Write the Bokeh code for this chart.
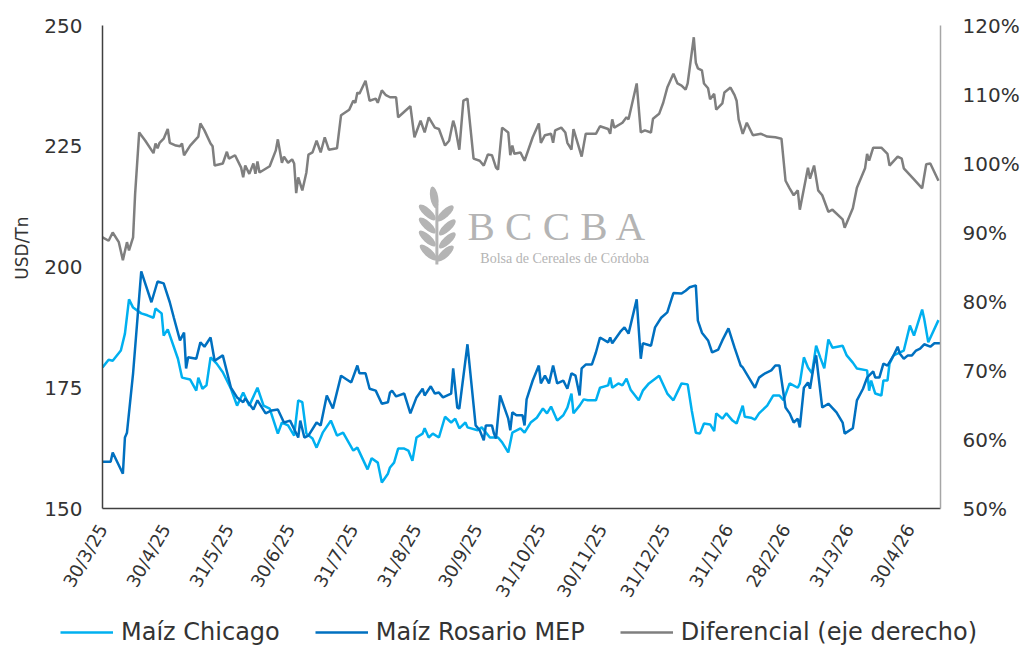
import math
from datetime import date, datetime

from bokeh.plotting import figure
from bokeh.models import Range1d, LinearAxis, FixedTicker, Legend, LegendItem, Label, PrintfTickFormatter
from bokeh.embed import file_html
from bokeh.resources import INLINE

# ---------------- data ----------------
START = date(2025, 3, 30)   # day offsets below are counted from this date

tick_labels = ["30/3/25", "30/4/25", "31/5/25", "30/6/25", "31/7/25", "31/8/25", "30/9/25",
               "31/10/25", "30/11/25", "31/12/25", "31/1/26", "28/2/26", "31/3/26", "30/4/26"]

usd_ticks = [150, 175, 200, 225, 250]
pct_ticks = [50, 60, 70, 80, 90, 100, 110, 120]

series_names = ["Maíz Chicago", "Maíz Rosario MEP", "Diferencial (eje derecho)"]

# Maíz Chicago (USD/Tn)
chicago_day = [0, 3, 5, 9, 11, 13, 15, 19, 22, 25,
               26, 29, 30, 32, 37, 39, 43, 46, 47, 49,
               51, 53, 56, 59, 63, 66, 69, 72, 76, 79,
               82, 86, 88, 91, 94, 96, 98, 100, 103, 105,
               108, 112, 115, 118, 123, 125, 130, 132, 135, 137,
               140, 141, 143, 145, 148, 150, 152, 154, 157, 158,
               160, 162, 165, 168, 171, 173, 175, 178, 179, 184,
               186, 190, 194, 196, 199, 201, 205, 207, 210, 213,
               216, 218, 220, 223, 226, 228, 230, 231, 234, 236,
               238, 242, 244, 248, 249, 250, 253, 255, 257, 259,
               263, 265, 268, 273, 277, 280, 284, 287, 289, 291,
               293, 295, 298, 300, 301, 304, 306, 309, 311, 314,
               315, 318, 320, 322, 326, 329, 332, 334, 337, 341,
               342, 344, 346, 348, 350, 352, 354, 356, 358, 363,
               365, 368, 370, 375, 376, 377, 379, 382, 383, 385,
               386, 388, 393, 396, 398, 402, 403, 405, 410]
chicago_usd = [179.2, 180.8, 180.6, 182.7, 186.2, 193.3, 191.6, 190.4, 190.0, 189.5,
               191.4, 190.4, 185.8, 187.1, 181.0, 177.1, 176.7, 174.4, 177.1, 174.8,
               175.5, 181.3, 180.0, 178.2, 174.8, 171.3, 174.0, 171.3, 175.0, 171.3,
               170.7, 165.5, 167.8, 167.2, 165.1, 172.4, 172.0, 165.5, 164.5, 162.6,
               165.7, 168.2, 165.1, 165.7, 162.0, 162.6, 158.1, 160.4, 159.5, 155.4,
               157.2, 158.5, 159.5, 162.4, 162.4, 162.0, 159.9, 164.7, 165.5, 166.6,
               164.7, 165.5, 164.7, 169.0, 167.8, 168.6, 166.6, 167.8, 166.8, 166.2,
               166.8, 164.7, 164.7, 163.7, 161.6, 165.7, 166.6, 165.7, 167.8, 168.8,
               170.7, 169.7, 171.1, 168.2, 169.3, 170.9, 173.8, 169.7, 171.3, 172.6,
               172.4, 172.4, 175.0, 175.5, 177.1, 175.0, 175.9, 175.5, 176.9, 174.6,
               172.4, 174.4, 175.9, 177.5, 173.8, 172.4, 175.9, 175.7, 170.3, 165.7,
               165.5, 167.6, 167.4, 166.0, 169.7, 168.6, 169.7, 168.2, 167.6, 171.3,
               169.0, 168.8, 168.4, 169.7, 171.3, 173.4, 173.4, 172.4, 175.9, 175.0,
               175.9, 181.3, 179.2, 178.0, 183.7, 181.3, 179.0, 185.0, 183.3, 183.7,
               181.7, 180.2, 179.0, 178.6, 174.4, 176.5, 173.8, 173.4, 176.5, 176.5,
               180.0, 181.7, 182.7, 187.9, 185.8, 191.2, 189.3, 184.4, 189.0]

# Maíz Rosario MEP (USD/Tn)
rosario_day = [0, 4, 5, 10, 11, 12, 15, 19, 24, 27,
               30, 33, 35, 38, 40, 41, 42, 46, 48, 50,
               53, 55, 59, 63, 66, 69, 70, 74, 76, 80,
               83, 86, 89, 92, 96, 97, 99, 101, 105, 107,
               110, 113, 117, 122, 125, 126, 129, 131, 134, 137,
               140, 141, 142, 144, 148, 151, 154, 157, 158, 161,
               163, 165, 167, 171, 172, 174, 175, 179, 183, 185,
               187, 188, 191, 192, 193, 195, 199, 200, 201, 203,
               206, 207, 208, 211, 214, 215, 217, 219, 221, 223,
               226, 228, 230, 232, 234, 235, 237, 240, 242, 244,
               248, 249, 250, 254, 256, 258, 262, 264, 265, 269,
               271, 274, 277, 280, 284, 286, 288, 291, 292, 294,
               297, 299, 302, 304, 307, 310, 313, 314, 317, 320,
               322, 325, 328, 330, 332, 335, 337, 339, 341, 342,
               344, 346, 347, 349, 350, 351, 353, 356, 360, 363,
               364, 368, 370, 373, 375, 378, 379, 381, 383, 385,
               388, 390, 391, 393, 395, 397, 399, 401, 403, 406,
               408, 411]
rosario_usd = [159.7, 159.7, 161.6, 157.2, 164.7, 165.7, 178.0, 199.1, 192.7, 197.0,
               196.6, 192.7, 189.5, 184.8, 186.4, 179.0, 181.3, 181.0, 184.4, 183.5,
               185.4, 180.6, 181.7, 175.0, 173.0, 172.0, 172.8, 170.5, 172.4, 169.7,
               170.3, 170.5, 167.8, 168.2, 164.7, 168.2, 164.7, 165.1, 167.8, 167.2,
               173.4, 170.7, 177.5, 176.1, 179.6, 178.0, 178.0, 174.8, 174.4, 171.7,
               172.0, 174.0, 174.4, 173.2, 173.8, 169.7, 173.0, 174.8, 173.4, 175.3,
               173.8, 174.0, 173.0, 173.8, 179.0, 170.9, 170.7, 184.0, 167.2, 166.2,
               164.1, 167.2, 167.2, 165.5, 164.5, 173.4, 168.6, 166.2, 169.9, 169.3,
               169.3, 167.2, 172.6, 176.5, 179.6, 175.9, 177.5, 175.9, 179.6, 175.9,
               176.5, 174.8, 178.0, 177.5, 173.4, 179.0, 179.8, 179.8, 182.3, 185.4,
               184.4, 185.4, 184.2, 186.6, 187.5, 186.2, 193.3, 181.0, 184.2, 183.7,
               187.5, 189.5, 190.6, 194.6, 194.5, 195.1, 195.8, 196.2, 188.9, 186.4,
               184.8, 182.3, 182.9, 184.8, 187.3, 183.3, 179.6, 179.2, 177.1, 175.0,
               177.1, 178.0, 178.6, 179.6, 179.6, 170.9, 169.7, 167.8, 168.6, 166.8,
               175.0, 176.1, 174.8, 180.0, 181.7, 178.0, 170.9, 171.7, 169.9, 167.8,
               165.5, 166.6, 172.4, 174.8, 177.1, 178.4, 177.1, 177.1, 180.0, 179.6,
               181.7, 183.5, 182.1, 181.0, 181.7, 181.7, 182.7, 183.1, 184.0, 183.5,
               184.2, 184.2]

# Diferencial (eje derecho), %
dif_day = [0, 3, 5, 8, 10, 12, 13, 15, 16, 18,
           21, 25, 26, 27, 28, 30, 32, 33, 36, 38,
           39, 40, 43, 47, 48, 50, 53, 54, 55, 59,
           61, 62, 65, 68, 69, 70, 72, 74, 75, 76,
           77, 82, 85, 86, 88, 89, 91, 93, 94, 95,
           96, 98, 100, 101, 103, 105, 107, 109, 111, 115,
           117, 119, 121, 123, 124, 125, 126, 129, 131, 134,
           135, 137, 139, 141, 144, 145, 151, 153, 156, 158,
           160, 163, 165, 168, 170, 172, 173, 175, 177, 179,
           182, 185, 187, 189, 191, 193, 194, 196, 199, 200,
           201, 202, 205, 207, 211, 214, 215, 217, 220, 221,
           222, 225, 227, 228, 230, 231, 233, 235, 237, 242,
           244, 248, 249, 250, 251, 255, 257, 258, 262, 264,
           266, 269, 270, 273, 275, 277, 280, 282, 284, 286,
           287, 290, 291, 292, 294, 295, 297, 298, 300, 301,
           304, 305, 308, 310, 311, 312, 314, 316, 319, 323,
           326, 330, 333, 335, 337, 339, 341, 342, 346, 347,
           349, 351, 353, 356, 358, 363, 364, 368, 370, 374,
           375, 376, 378, 382, 385, 386, 390, 392, 393, 398,
           402, 404, 406, 410]
dif_pct = [89.3, 88.8, 90.0, 88.6, 86.0, 88.6, 87.4, 89.3, 95.6, 104.5,
           103.3, 101.5, 102.9, 102.2, 103.0, 103.6, 105.0, 103.0, 102.6, 102.5,
           102.9, 101.2, 102.6, 103.9, 105.8, 104.8, 102.9, 102.5, 99.7, 100.0,
           101.7, 100.7, 101.2, 99.4, 98.0, 99.7, 98.5, 100.0, 98.5, 100.3,
           98.7, 99.6, 101.9, 103.5, 100.1, 101.0, 100.1, 100.6, 100.0, 95.7,
           98.0, 96.1, 98.7, 101.3, 101.6, 103.3, 101.6, 103.8, 102.0, 102.2,
           107.0, 107.4, 107.8, 109.1, 108.8, 110.3, 110.1, 112.0, 109.1, 109.4,
           108.8, 110.6, 109.9, 109.6, 109.6, 106.7, 108.3, 103.8, 106.2, 104.5,
           106.7, 105.2, 105.0, 102.6, 103.3, 106.2, 105.2, 102.0, 109.1, 109.4,
           100.7, 100.4, 99.7, 101.3, 101.2, 99.4, 99.1, 105.2, 104.5, 101.2,
           102.6, 101.4, 101.6, 100.4, 103.8, 105.8, 103.0, 104.1, 104.3, 103.0,
           104.8, 105.2, 104.5, 103.0, 102.0, 105.0, 103.0, 101.0, 104.3, 104.3,
           105.4, 105.0, 104.3, 106.4, 105.2, 105.9, 106.7, 106.4, 111.6, 104.5,
           104.8, 104.5, 106.5, 107.2, 108.8, 111.0, 113.0, 111.6, 111.3, 110.7,
           111.6, 118.3, 114.6, 113.8, 113.5, 111.6, 110.9, 109.3, 110.1, 107.8,
           108.7, 110.3, 111.0, 109.9, 109.1, 106.4, 104.3, 105.9, 104.1, 104.3,
           103.9, 103.8, 103.6, 97.5, 96.4, 95.4, 96.1, 93.3, 99.4, 97.8,
           99.7, 96.1, 95.4, 93.0, 93.3, 91.9, 90.7, 93.5, 96.5, 99.3,
           101.4, 100.4, 102.3, 102.3, 101.4, 99.7, 101.0, 100.7, 99.3, 97.7,
           96.4, 99.9, 100.0, 97.5]

# ---------------- styling ----------------
FONT = "DejaVu Sans"
TXT = "#333333"
COLORS = ["#00B0F0", "#0070C0", "#7F7F7F"]
LW = 2.5

tick_days = [(datetime.strptime(s, "%d/%m/%y").date() - START).days for s in tick_labels]

# ---------------- main chart ----------------
p = figure(width=1026, height=612, output_backend="svg", toolbar_location=None,
           x_range=Range1d(0, 411), y_range=Range1d(150, 250),
           min_border_left=102, min_border_right=86, min_border_top=25, min_border_bottom=104)
p.extra_y_ranges = {"pct": Range1d(50, 120)}
p.outline_line_color = None
p.grid.visible = False
p.background_fill_color = "white"
p.border_fill_color = "white"

# x axis
xa = p.xaxis[0]
xa.ticker = FixedTicker(ticks=tick_days)
xa.major_label_overrides = {d: s for d, s in zip(tick_days, tick_labels)}
xa.major_label_orientation = math.radians(60)
xa.major_label_text_font = FONT
xa.major_label_text_font_size = "18px"
xa.major_label_text_color = TXT
xa.major_label_standoff = 17
xa.major_tick_line_color = None
xa.minor_tick_line_color = None
xa.major_tick_in = 0
xa.major_tick_out = 0
xa.axis_line_color = "#404040"
xa.axis_line_width = 1.5

# left axis
ya = p.yaxis[0]
ya.ticker = FixedTicker(ticks=usd_ticks)
ya.major_label_text_font = FONT
ya.major_label_text_font_size = "20px"
ya.major_label_text_color = TXT
ya.major_label_standoff = 20
ya.major_tick_line_color = None
ya.minor_tick_line_color = None
ya.major_tick_in = 0
ya.major_tick_out = 0
ya.axis_line_color = "#404040"
ya.axis_line_width = 1.5
ya.axis_label = "\u00a0" * 7 + "USD/Tn"
ya.axis_label_text_font = FONT
ya.axis_label_text_font_size = "17px"
ya.axis_label_text_font_style = "normal"
ya.axis_label_text_color = TXT
ya.axis_label_standoff = 9

# right axis
ra = LinearAxis(y_range_name="pct", ticker=FixedTicker(ticks=pct_ticks),
                formatter=PrintfTickFormatter(format="%d%%"))
ra.major_label_text_font = FONT
ra.major_label_text_font_size = "20px"
ra.major_label_text_color = TXT
ra.major_label_standoff = 22
ra.major_tick_line_color = None
ra.minor_tick_line_color = None
ra.major_tick_in = 0
ra.major_tick_out = 0
ra.axis_line_color = "#a6a6a6"
ra.axis_line_width = 1.5
p.add_layout(ra, "right")

# watermark logo (decoration)
LOGO = "#b4b4b4"
p.ellipse(x=[159.3, 159.3, 159.3, 159.8, 168.1, 169.1, 169.1, 168.1, 162.7],
          y=[211.3, 208.6, 205.9, 203.0, 211.1, 208.2, 205.5, 202.8, 214.4],
          width=22, height=8, width_units="screen", height_units="screen",
          angle=[2.4, 2.4, 2.4, 2.4, 0.75, 0.75, 0.75, 0.75, 1.75],
          fill_color=LOGO, line_color=None)
p.segment(x0=[164.0], y0=[213.0], x1=[164.0], y1=[200.5], line_color=LOGO, line_width=3)
p.add_layout(Label(x=179, y=208.4, text="B C C B A", text_font="Liberation Serif",
                   text_font_size="41px", text_color=LOGO, text_baseline="middle"))
p.add_layout(Label(x=185.3, y=201.8, text="Bolsa de Cereales de Córdoba", text_font="Liberation Serif",
                   text_font_size="14px", text_color=LOGO, text_baseline="middle"))

# series
p.line(chicago_day, chicago_usd, line_color=COLORS[0], line_width=LW)
p.line(rosario_day, rosario_usd, line_color=COLORS[1], line_width=LW)
p.line(dif_day, dif_pct, line_color=COLORS[2], line_width=LW, y_range_name="pct")

# ---------------- legend strip below the chart (separate root, full-width frame) ----------------
lg = figure(width=1026, height=34, output_backend="svg", toolbar_location=None,
            x_range=Range1d(0, 1), y_range=Range1d(0, 1),
            x_axis_location=None, y_axis_location=None, min_border=0)
lg.outline_line_color = None
lg.grid.visible = False
lg.background_fill_color = "white"
lg.border_fill_color = "white"
# legend swatches only: these lines lie outside the strip's visible range
samples = [lg.line(x=[0, 1], y=[5, 5], line_color=c, line_width=LW) for c in COLORS]
legend = Legend(items=[LegendItem(label=n, renderers=[r]) for n, r in zip(series_names, samples)],
                orientation="horizontal", location=(60, 0),
                label_text_font=FONT, label_text_font_size="24px", label_text_color=TXT,
                glyph_width=53, glyph_height=20, label_standoff=8, spacing=35,
                padding=0, margin=0, border_line_color=None, background_fill_alpha=0)
lg.add_layout(legend, "center")

open("out.html", "w").write(file_html([p, lg], INLINE))
